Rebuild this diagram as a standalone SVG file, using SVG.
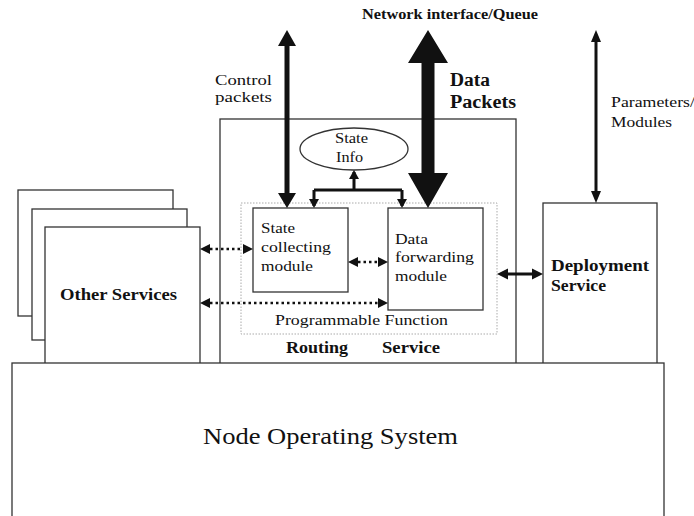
<svg xmlns="http://www.w3.org/2000/svg" width="694" height="516" viewBox="0 0 694 516">
<rect width="694" height="516" fill="#fff"/>

<g id="other-services" fill="#fff" stroke="#333" stroke-width="1.3">
<rect x="18" y="190" width="155" height="126"/>
<rect x="32" y="209" width="155" height="131"/>
<rect x="45" y="227" width="155" height="140"/>
<text font-family="Liberation Serif" font-weight="bold" fill="#111" stroke="none" x="60" y="300" font-size="16" textLength="117" lengthAdjust="spacingAndGlyphs">Other Services</text>
</g>

<g id="routing-service" fill="#fff" stroke="#333" stroke-width="1.3">
<rect x="220" y="119" width="296" height="248"/>
<text font-family="Liberation Serif" font-weight="bold" fill="#111" stroke="none" x="286" y="353" font-size="16" textLength="62" lengthAdjust="spacingAndGlyphs">Routing</text>
<text font-family="Liberation Serif" font-weight="bold" fill="#111" stroke="none" x="382" y="353" font-size="16" textLength="58" lengthAdjust="spacingAndGlyphs">Service</text>
</g>

<g id="programmable-function">
<rect x="241" y="203" width="256" height="131" fill="none" stroke="#aaa" stroke-width="1" stroke-dasharray="1.5 1.5"/>
<text font-family="Liberation Serif" fill="#111" x="275" y="325" font-size="14" textLength="173" lengthAdjust="spacingAndGlyphs">Programmable Function</text>
</g>

<g id="state-info">
<ellipse cx="354" cy="149" rx="54" ry="21" fill="#fff" stroke="#333" stroke-width="1.3"/>
<text font-family="Liberation Serif" fill="#111" x="335" y="143" font-size="14" textLength="33" lengthAdjust="spacingAndGlyphs">State</text>
<text font-family="Liberation Serif" fill="#111" x="336" y="162" font-size="14" textLength="27" lengthAdjust="spacingAndGlyphs">Info</text>
</g>

<g id="state-collecting">
<rect x="253" y="208" width="95" height="84" fill="#fff" stroke="#333" stroke-width="1.3"/>
<text font-family="Liberation Serif" fill="#111" x="261" y="233" font-size="15" textLength="34" lengthAdjust="spacingAndGlyphs">State</text>
<text font-family="Liberation Serif" fill="#111" x="261" y="252" font-size="15" textLength="70" lengthAdjust="spacingAndGlyphs">collecting</text>
<text font-family="Liberation Serif" fill="#111" x="261" y="271" font-size="15" textLength="52" lengthAdjust="spacingAndGlyphs">module</text>
</g>

<g id="data-forwarding">
<rect x="388" y="208" width="95" height="102" fill="#fff" stroke="#333" stroke-width="1.3"/>
<text font-family="Liberation Serif" fill="#111" x="395" y="244" font-size="15" textLength="33" lengthAdjust="spacingAndGlyphs">Data</text>
<text font-family="Liberation Serif" fill="#111" x="395" y="262" font-size="15" textLength="79" lengthAdjust="spacingAndGlyphs">forwarding</text>
<text font-family="Liberation Serif" fill="#111" x="395" y="281" font-size="15" textLength="52" lengthAdjust="spacingAndGlyphs">module</text>
</g>

<g id="deployment-service">
<rect x="543" y="203" width="114" height="164" fill="#fff" stroke="#333" stroke-width="1.3"/>
<text font-family="Liberation Serif" font-weight="bold" fill="#111" x="551" y="271" font-size="16" textLength="98" lengthAdjust="spacingAndGlyphs">Deployment</text>
<text font-family="Liberation Serif" font-weight="bold" fill="#111" x="551" y="291" font-size="16" textLength="55" lengthAdjust="spacingAndGlyphs">Service</text>
</g>

<g id="node-os">
<rect x="12" y="363" width="652" height="160" fill="#fff" stroke="#333" stroke-width="1.3"/>
<text font-family="Liberation Serif" fill="#111" x="203" y="444" font-size="24" textLength="255" lengthAdjust="spacingAndGlyphs">Node Operating System</text>
</g>

<g id="labels" fill="#111">
<text font-family="Liberation Serif" font-weight="bold" x="362" y="19" font-size="15" textLength="176" lengthAdjust="spacingAndGlyphs">Network interface/Queue</text>
<text font-family="Liberation Serif" x="215" y="85" font-size="14" textLength="57" lengthAdjust="spacingAndGlyphs">Control</text>
<text font-family="Liberation Serif" x="215" y="102" font-size="14" textLength="57" lengthAdjust="spacingAndGlyphs">packets</text>
<text font-family="Liberation Serif" font-weight="bold" x="450" y="86" font-size="18" textLength="40" lengthAdjust="spacingAndGlyphs">Data</text>
<text font-family="Liberation Serif" font-weight="bold" x="450" y="108" font-size="18" textLength="66" lengthAdjust="spacingAndGlyphs">Packets</text>
<text font-family="Liberation Serif" x="611" y="107" font-size="14" textLength="84" lengthAdjust="spacingAndGlyphs">Parameters/</text>
<text font-family="Liberation Serif" x="611" y="127" font-size="14" textLength="61" lengthAdjust="spacingAndGlyphs">Modules</text>
</g>

<g id="connectors" fill="#111">
<polygon points="287,30 296,46 289.5,46 289.5,193 296,193 287,208 278,193 284.5,193 284.5,46 278,46"/>
<polygon points="428,30 448,63 434.5,63 434.5,173 448,173 428,208 408,173 421.5,173 421.5,63 408,63"/>
<path fill="none" stroke="#111" stroke-width="3" d="M354,190 V172 M314,190 H402 M314,190 V206 M402,190 V206"/>
<polygon points="354,170 359,179 349,179"/>
<polygon points="314,208 319,199 309,199"/>
<polygon points="402,208 407,199 397,199"/>
<g stroke="#111" stroke-width="2.5" stroke-dasharray="2.5 3" fill="none">
<line x1="210" y1="249" x2="243" y2="249"/>
<line x1="210" y1="303" x2="378" y2="303"/>
<line x1="358" y1="262" x2="378" y2="262"/>
</g>
<polygon points="200,249 210,244 210,254"/>
<polygon points="253,249 243,244 243,254"/>
<polygon points="200,303 210,298 210,308"/>
<polygon points="388,303 378,298 378,308"/>
<polygon points="348,262 358,257 358,267"/>
<polygon points="388,262 378,257 378,267"/>
<line stroke="#111" stroke-width="3" x1="506" y1="274" x2="534" y2="274"/>
<polygon points="497,274 508,268.5 508,279.5"/>
<polygon points="543,274 532,268.5 532,279.5"/>
<line stroke="#111" stroke-width="3" x1="596" y1="40" x2="596" y2="193"/>
<polygon points="596,30 601,42 591,42"/>
<polygon points="596,203 601,191 591,191"/>
</g>
</svg>
